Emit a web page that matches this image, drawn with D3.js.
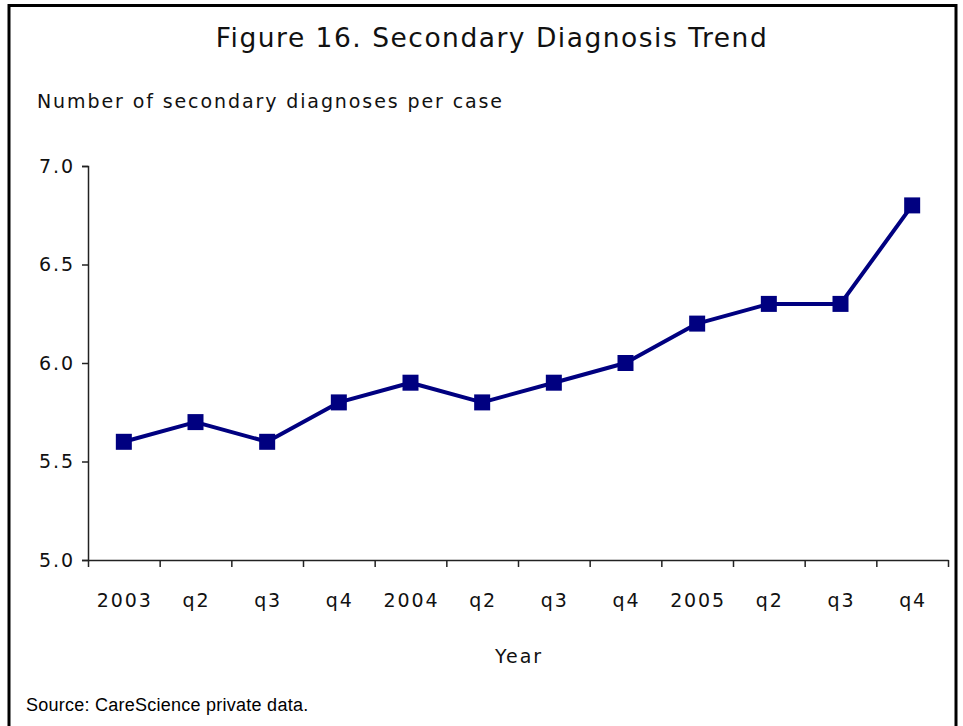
<!DOCTYPE html>
<html>
<head>
<meta charset="utf-8">
<script src="https://cdn.jsdelivr.net/npm/d3@7"></script>
<style>
  html, body { margin: 0; padding: 0; background: #fff; }
  svg { display: block; }
</style>
</head>
<body>
<svg id="chart" width="963" height="726"></svg>
<script>
// Quarterly periods and the average number of secondary diagnoses per case
const categories = ["2003", "q2", "q3", "q4", "2004", "q2", "q3", "q4", "2005", "q2", "q3", "q4"];
const values = [5.6, 5.7, 5.6, 5.8, 5.9, 5.8, 5.9, 6.0, 6.2, 6.3, 6.3, 6.8];
const yTicks = [5.0, 5.5, 6.0, 6.5, 7.0];

const svg = d3.select("#chart");
const font = "'DejaVu Sans', Verdana, sans-serif";
const labelSize = 19, labelSpacing = 1.9;

// Frame around the figure
svg.append("path")
  .attr("d", "M9,726 V5.5 H956 V726")
  .attr("fill", "none")
  .attr("stroke", "#000")
  .attr("stroke-width", 3);

const plot = { left: 88, right: 948, top: 166, bottom: 560 };

const x = d3.scaleBand()
  .domain(d3.range(categories.length))
  .range([plot.left, plot.right]);

const y = d3.scaleLinear()
  .domain([5.0, 7.0])
  .range([plot.bottom, plot.top]);

// Title and axis captions
svg.append("text")
  .attr("x", 492).attr("y", 47)
  .attr("text-anchor", "middle")
  .attr("font-family", font)
  .attr("font-size", 26.5)
  .attr("letter-spacing", 1.5)
  .attr("fill", "#111")
  .text("Figure 16. Secondary Diagnosis Trend");

svg.append("text")
  .attr("x", 37).attr("y", 108)
  .attr("font-family", font)
  .attr("font-size", labelSize)
  .attr("letter-spacing", labelSpacing)
  .attr("fill", "#111")
  .text("Number of secondary diagnoses per case");

svg.append("text")
  .attr("x", 519).attr("y", 663)
  .attr("text-anchor", "middle")
  .attr("font-family", font)
  .attr("font-size", labelSize)
  .attr("letter-spacing", labelSpacing)
  .attr("fill", "#111")
  .text("Year");

svg.append("text")
  .attr("x", 26).attr("y", 711)
  .attr("font-family", "'Liberation Sans', Arial, sans-serif")
  .attr("font-size", 18)
  .attr("letter-spacing", 0.25)
  .attr("fill", "#000")
  .text("Source: CareScience private data.");

// Y axis
const yAxis = svg.append("g")
  .attr("transform", `translate(${plot.left},0)`)
  .call(d3.axisLeft(y).tickValues(yTicks).tickFormat(d3.format(".1f")).tickSize(6).tickPadding(7));
yAxis.select(".domain").attr("stroke", "#222").attr("stroke-width", 1.5);
yAxis.selectAll(".tick line").attr("stroke", "#222").attr("stroke-width", 1.5);
yAxis.selectAll(".tick text")
  .attr("font-family", font)
  .attr("font-size", labelSize)
  .attr("letter-spacing", labelSpacing)
  .attr("fill", "#111");

// X axis: tick marks between periods, labels centred in each period
const xEdges = d3.scaleLinear().domain([0, categories.length]).range([plot.left, plot.right]);
const xAxis = svg.append("g")
  .attr("transform", `translate(0,${plot.bottom})`)
  .call(d3.axisBottom(xEdges).tickValues(d3.range(categories.length + 1)).tickFormat("").tickSize(7).tickSizeOuter(0));
xAxis.select(".domain").attr("stroke", "#222").attr("stroke-width", 1.5);
xAxis.selectAll(".tick line").attr("stroke", "#222").attr("stroke-width", 1.5);

const xLabels = svg.append("g")
  .attr("transform", `translate(${labelSpacing / 2},${plot.bottom})`)
  .call(d3.axisBottom(x).tickSize(0).tickPadding(33.5).tickFormat(i => categories[i]));
xLabels.select(".domain").remove();
xLabels.selectAll(".tick text")
  .attr("font-family", font)
  .attr("font-size", labelSize)
  .attr("letter-spacing", labelSpacing)
  .attr("fill", "#111");

// Trend line with square markers
const cx = i => x(i) + x.bandwidth() / 2;
svg.append("path")
  .datum(values)
  .attr("fill", "none")
  .attr("stroke", "#000080")
  .attr("stroke-width", 4)
  .attr("stroke-linejoin", "round")
  .attr("d", d3.line().x((d, i) => cx(i)).y(d => y(d)));

const m = 16;
svg.selectAll("rect.marker")
  .data(values)
  .join("rect")
  .attr("class", "marker")
  .attr("x", (d, i) => cx(i) - m / 2)
  .attr("y", d => y(d) - m / 2)
  .attr("width", m)
  .attr("height", m)
  .attr("fill", "#000080");
</script>
</body>
</html>
